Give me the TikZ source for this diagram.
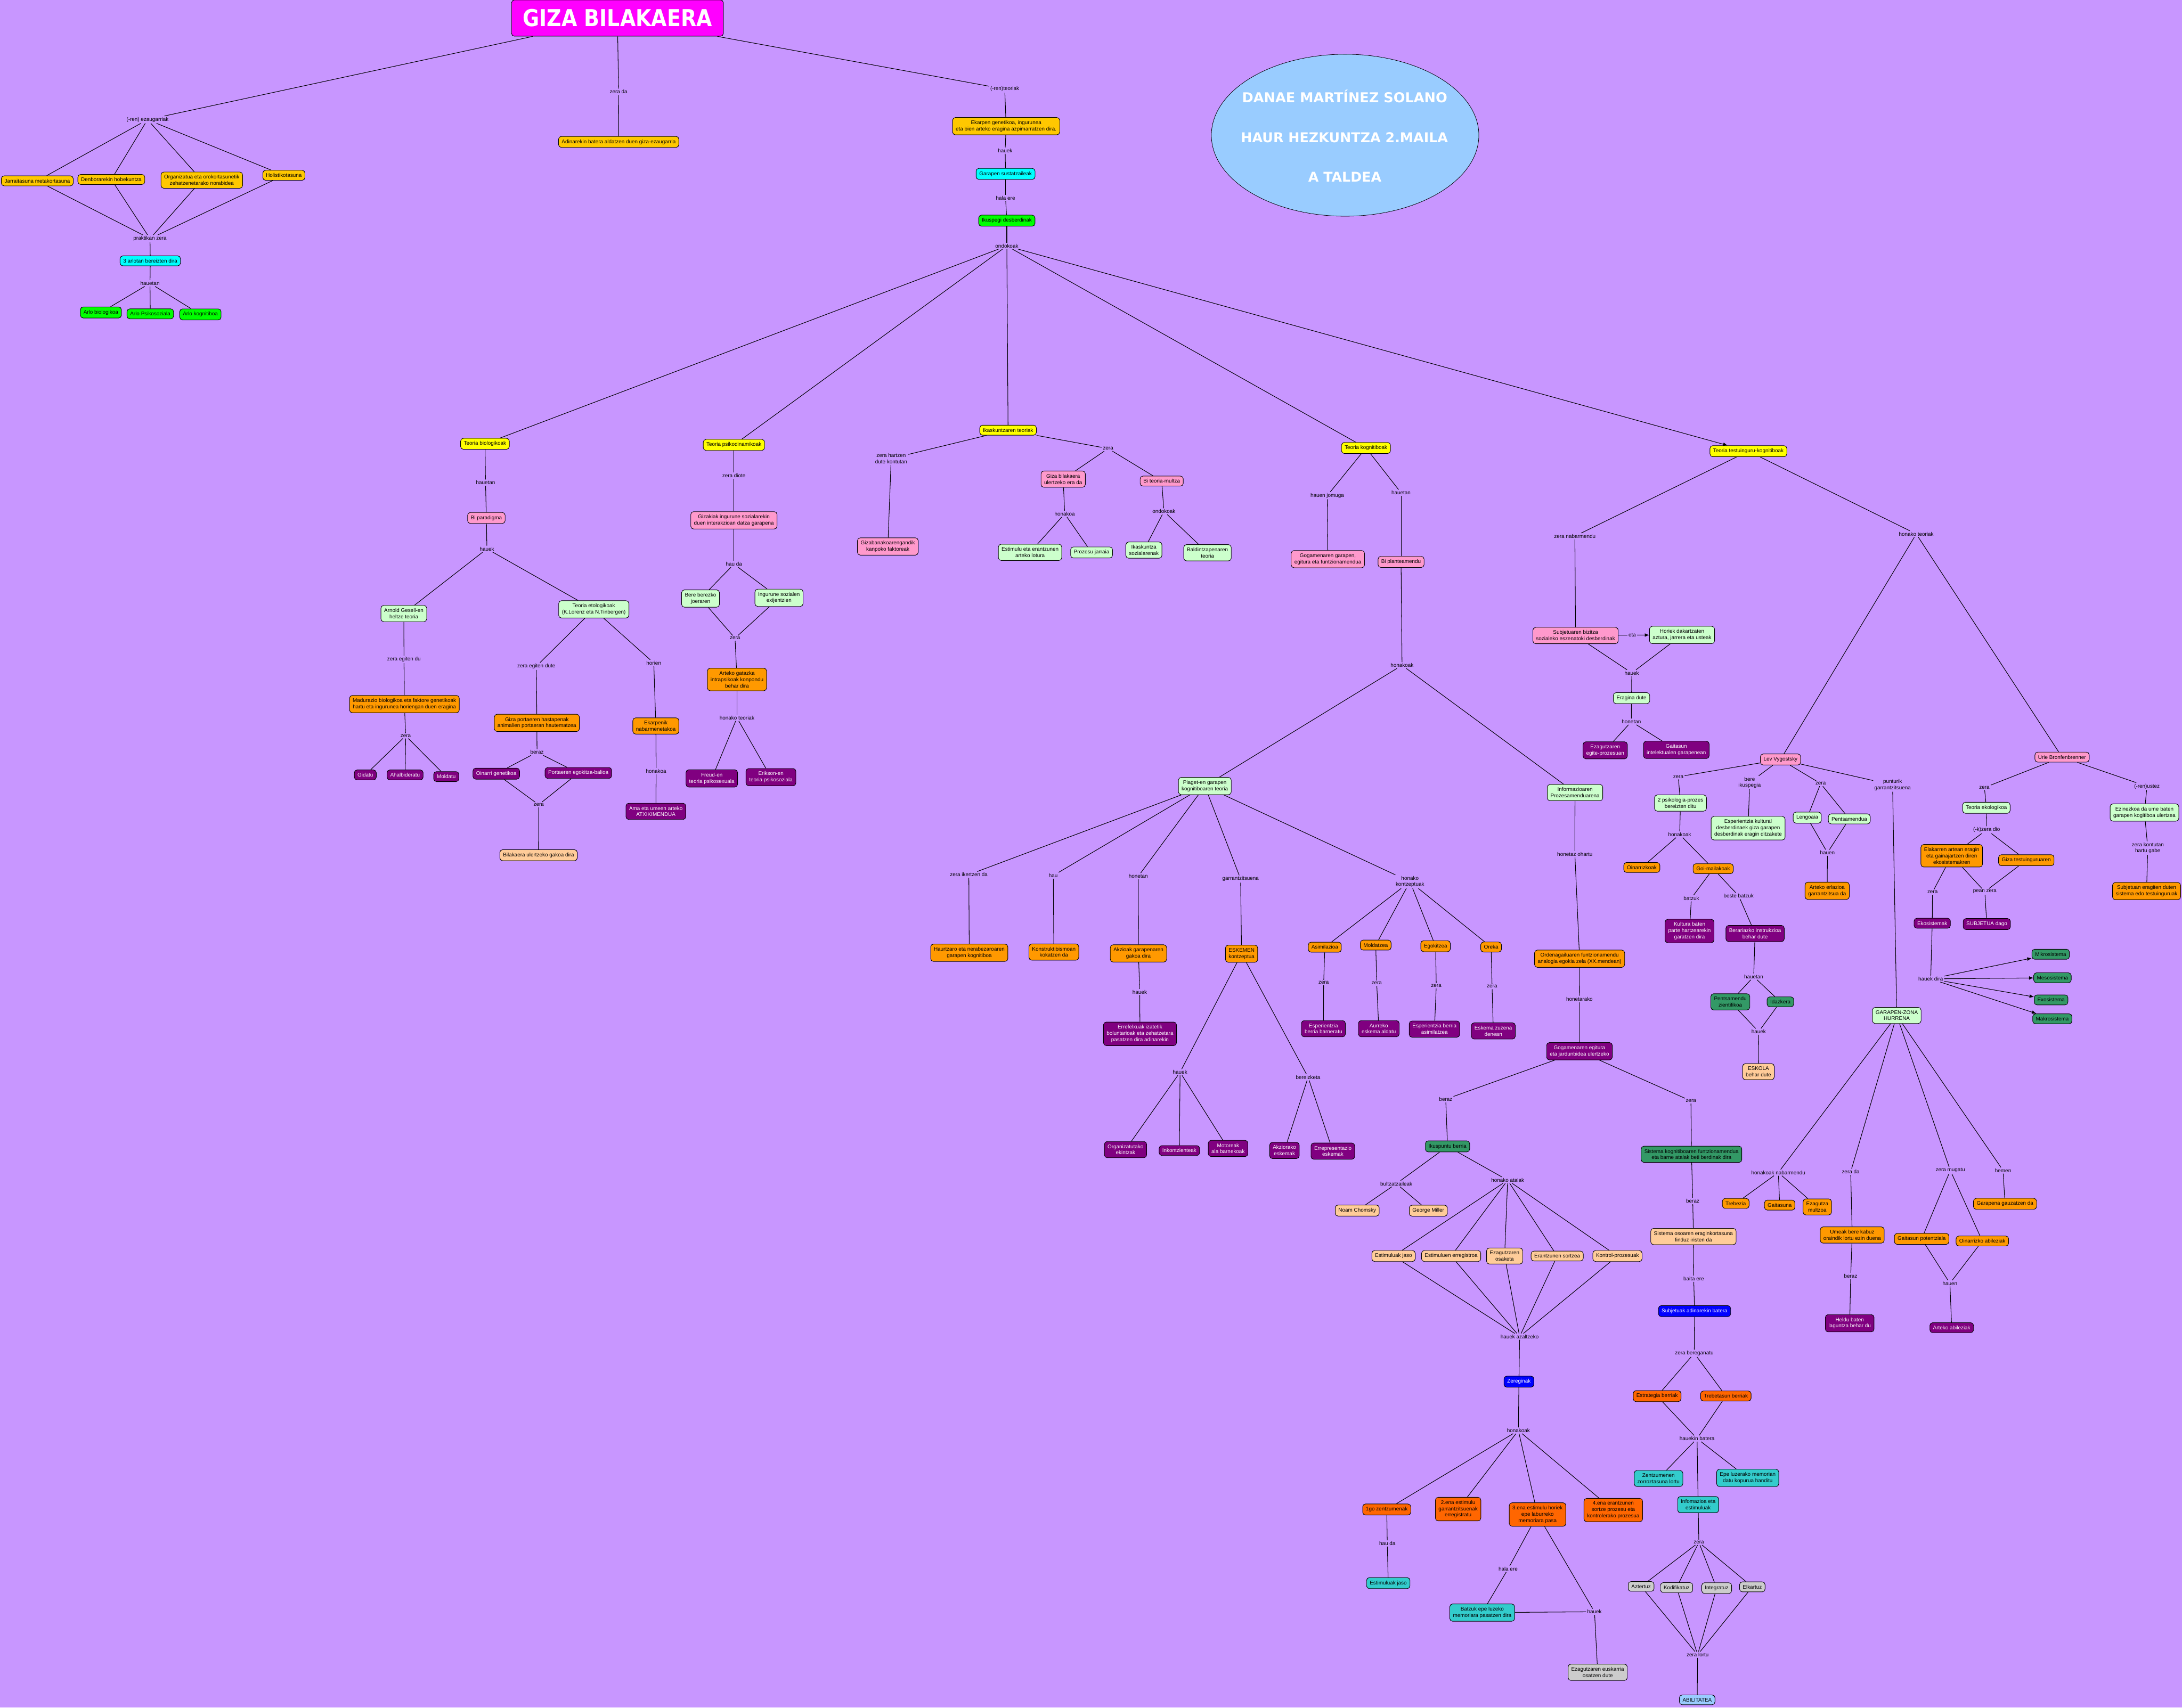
\documentclass[tikz,border=0pt]{standalone}
\usepackage{fontspec}
\setmainfont{Liberation Sans}
\newfontfamily\titlefont{DejaVu Sans}
\usetikzlibrary{arrows.meta,shapes.geometric}
\definecolor{cBg}{RGB}{200,150,255}
\definecolor{cMag}{RGB}{255,0,255}
\definecolor{cGold}{RGB}{255,200,0}
\definecolor{cOrange}{RGB}{255,153,0}
\definecolor{cPeach}{RGB}{255,204,153}
\definecolor{cPink}{RGB}{255,153,204}
\definecolor{cLGreen}{RGB}{204,255,204}
\definecolor{cDGreen}{RGB}{51,153,102}
\definecolor{cPurple}{RGB}{128,0,128}
\definecolor{cBlue}{RGB}{0,0,255}
\definecolor{cORed}{RGB}{255,102,0}
\definecolor{cTeal}{RGB}{51,204,204}
\definecolor{cGray}{RGB}{204,204,204}
\definecolor{cLBlue}{RGB}{153,204,255}
\definecolor{cCyan}{RGB}{0,255,255}
\definecolor{cGreen}{RGB}{0,255,0}
\definecolor{cYellow}{RGB}{255,255,0}
\tikzset{
  every node/.style={font=\fontsize{10.8}{12.8}\selectfont},
  box/.style={draw=black, line width=0.35mm, rounded corners=2mm, inner xsep=2.3mm, inner ysep=2.2mm, align=center},
  lab/.style={inner sep=0.8mm, align=center},
  gold/.style={box, fill=cGold},
  orng/.style={box, fill=cOrange},
  peach/.style={box, fill=cPeach},
  pink/.style={box, fill=cPink},
  lgrn/.style={box, fill=cLGreen},
  dgrn/.style={box, fill=cDGreen},
  purp/.style={box, fill=cPurple, text=white},
  blu/.style={box, fill=cBlue, text=white},
  ored/.style={box, fill=cORed},
  teal/.style={box, fill=cTeal},
  gray/.style={box, fill=cGray},
  lblu/.style={box, fill=cLBlue},
  cyn/.style={box, fill=cCyan},
  grn/.style={box, fill=cGreen},
  yel/.style={box, fill=cYellow},
  con/.style={draw=black, line width=0.4mm},
  arr/.style={con, -{Latex[length=3.2mm,width=2.6mm]}}
}
\begin{document}
\begin{tikzpicture}[x=1mm,y=-1mm]
\fill[cBg] (0,0) rectangle (1568,1227.35);
\useasboundingbox (0,0) rectangle (1568,1227.35);

% ---------- title and top ----------
\node[draw=black, fill=cMag, rounded corners=2mm, line width=0.35mm, minimum width=152.2mm, minimum height=26mm, inner sep=0] (title) at (443.7,13) {\color{white}\resizebox{136mm}{12.4mm}{\titlefont\bfseries GIZA BILAKAERA}};
\node[ellipse, draw=black, fill=cLBlue, line width=0.3mm, minimum width=192.2mm, minimum height=116.4mm, inner sep=0] (danae) at (966.6,97.2) {};
\node[text=white, anchor=base, inner sep=0] (danaeA) at (966.3,73.7) {\resizebox{147.5mm}{!}{\titlefont\bfseries DANAE MARTÍNEZ SOLANO}};
\node[text=white, anchor=base, inner sep=0] (danaeB) at (966.1,102.5) {\resizebox{148.8mm}{!}{\titlefont\bfseries HAUR HEZKUNTZA 2.MAILA}};
\node[text=white, anchor=base, inner sep=0] (danaeC) at (966.4,130.9) {\resizebox{52.5mm}{!}{\titlefont\bfseries A TALDEA}};

\node[lab] (Lezaug) at (106,86) {(-ren) ezaugarriak};
\node[lab] (Lzerada) at (444.5,66) {zera da};
\node[gold] (adin) at (444.6,102) {Adinarekin batera aldatzen duen giza-ezaugarria};
\node[lab] (Lteoriak) at (722,64) {(-ren)teoriak};
\node[gold] (ekarpen) at (723,90.7) {Ekarpen genetikoa, ingurunea\\eta bien arteko eragina azpimarratzen dira.};
\node[lab] (Lhauek1) at (722.3,108.2) {hauek};
\node[cyn] (garapen) at (722.6,125) {Garapen sustatzaileak};
\node[lab] (Lhalaere) at (722.6,142.5) {hala ere};
\node[grn] (ikuspegi) at (723.5,158.6) {Ikuspegi desberdinak};
\node[lab] (Londokoak) at (723.5,176.8) {ondokoak};

% ---------- left branch ----------
\node[gold] (jarr) at (26.8,130) {Jarraitasuna metakortasuna};
\node[gold] (denb) at (80,129) {Denborarekin hobekuntza};
\node[gold] (organ) at (145,129.5) {Organizatua eta orokortasunetik\\zehatzenetarako norabidea};
\node[gold] (holis) at (204,126) {Holistikotasuna};
\node[lab] (Lprakt) at (107.8,171.5) {praktikan zera};
\node[cyn] (arlotan) at (108,187.5) {3 arlotan bereizten dira};
\node[lab] (Lhauetan1) at (107.8,203.6) {hauetan};
\node[grn] (arlob) at (72.5,224.6) {Arlo biologikoa};
\node[grn] (arlop) at (108,225.6) {Arlo Psikosoziala};
\node[grn] (arlok) at (144,226) {Arlo kognitiboa};

% ---------- theories row ----------
\node[yel] (tbio) at (348.5,319) {Teoria biologikoak};
\node[yel] (tpsi) at (527.4,319.8) {Teoria psikodinamikoak};
\node[yel] (tika) at (724.4,309.2) {Ikaskuntzaren teoriak};
\node[yel] (tkog) at (981.6,322) {Teoria kognitiboak};
\node[yel] (ttes) at (1256.4,324.3) {Teoria testuinguru-kognitiboak};

% ---------- biologikoak ----------
\node[lab] (Lhauetan2) at (348.9,346.9) {hauetan};
\node[pink] (bipar) at (349.5,372.3) {Bi paradigma};
\node[lab] (Lhauek2) at (349.9,394.5) {hauek};
\node[lgrn] (arnold) at (290.2,441) {Arnold Gesell-en\\heltze teoria};
\node[lgrn] (etolog) at (426.7,438) {Teoria etologikoak\\(K.Lorenz eta N.Tinbergen)};
\node[lab] (Lzeraegdu) at (290.3,474) {zera egiten du};
\node[lab] (Lzeraegdute) at (385.4,478.9) {zera egiten dute};
\node[lab] (Lhorien) at (469.8,476.5) {horien};
\node[orng] (madur) at (290.6,506.1) {Madurazio biologikoa eta faktore genetikoak\\hartu eta ingurunea horiengan duen eragina};
\node[orng] (gizaport) at (385.8,519.6) {Giza portaeren hastapenak\\animalien portaeran hautematzea};
\node[orng] (ekarpenik) at (471.3,521.8) {Ekarpenik\\nabarmenetakoa};
\node[lab] (Lzera1) at (291.5,528.9) {zera};
\node[lab] (Lberaz1) at (385.9,540.7) {beraz};
\node[lab] (Lhonakoa1) at (471.5,554.2) {honakoa};
\node[purp] (gidatu) at (262.5,557) {Gidatu};
\node[purp] (ahalb) at (291.1,557) {Ahalbideratu};
\node[purp] (moldatu) at (320.7,558.2) {Moldatu};
\node[purp] (oinarri) at (356.6,556.1) {Oinarri genetikoa};
\node[purp] (portaeren) at (415.6,555.6) {Portaeren egokitza-balioa};
\node[lab] (Lzera2) at (387.1,578.4) {zera};
\node[peach] (bilak) at (387,614.7) {Bilakaera ulertzeko gakoa dira};
\node[purp] (ama) at (471.3,583.2) {Ama eta umeen arteko\\ATXIKIMENDUA};

% ---------- psikodinamikoak ----------
\node[lab] (Lzeradiote) at (527.4,342) {zera diote};
\node[pink] (gizakiak) at (527.4,374) {Gizakiak ingurune sozialarekin\\duen interakzioan datza garapena};
\node[lab] (Lhauda1) at (527.4,405.5) {hau da};
\node[lgrn] (bere) at (503.4,430.2) {Bere berezko\\joeraren};
\node[lgrn] (ingurune) at (559.8,429.7) {Ingurune sozialen\\exijentzien};
\node[lab] (Lzera3) at (528.2,458.7) {zera};
\node[orng] (gatazka) at (529.6,488.4) {Arteko gatazka\\intrapsikoak konpondu\\behar dira};
\node[lab] (Lhonteor1) at (529.6,516) {honako teoriak};
\node[purp] (freud) at (511.5,559.5) {Freud-en\\teoria psikosexuala};
\node[purp] (erikson) at (554,558.6) {Erikson-en\\teoria psikosoziala};

% ---------- ikaskuntza ----------
\node[lab] (Lzerahartzen) at (640.4,329.6) {zera hartzen\\dute kontutan};
\node[lab] (Lzera4) at (796.3,322.4) {zera};
\node[pink] (gizaban) at (638,392.8) {Gizabanakoarengandik\\kanpoko faktoreak};
\node[pink] (gizabil) at (764,344.4) {Giza bilakaera\\ulertzeko era da};
\node[pink] (biteoria) at (834.8,345.8) {Bi teoria-multza};
\node[lab] (Lhonakoa2) at (765.1,369.3) {honakoa};
\node[lab] (Londokoak2) at (836.4,367.6) {ondokoak};
\node[lgrn] (estimulu) at (740.2,397) {Estimulu eta erantzunen\\arteko lotura};
\node[lgrn] (prozesu) at (784.4,397.1) {Prozesu jarraia};
\node[lgrn] (ikassoz) at (822,395.4) {Ikaskuntza\\sozialarenak};
\node[lgrn] (baldin) at (867.7,397.3) {Baldintzapenaren\\teoria};

% ---------- kognitiboak ----------
\node[lab] (Lhauenjom) at (953.8,356.2) {hauen jomuga};
\node[lab] (Lhauetan3) at (1006.8,354.2) {hauetan};
\node[pink] (gogam) at (954.2,401.9) {Gogamenaren garapen,\\egitura eta funtzionamendua};
\node[pink] (biplan) at (1006.8,403.9) {Bi planteamendu};
\node[lab] (Lhonakoak1) at (1007.5,478.2) {honakoak};
\node[lgrn] (piaget) at (865.8,565) {Piaget-en garapen\\kognitiboaren teoria};
\node[lgrn] (informaz) at (1131.8,569.7) {Informazioaren\\Prozesamenduarena};

% ---------- Piaget ----------
\node[lab] (Lzeraikertzen) at (696.2,628.7) {zera ikertzen da};
\node[lab] (Lhau) at (756.9,629.3) {hau};
\node[lab] (Lhonetan1) at (818,629.8) {honetan};
\node[lab] (Lgarrantz) at (891.5,631.8) {garrantzitsuena};
\node[lab] (Lhonkontz) at (1013.2,633.7) {honako\\kontzeptuak};
\node[orng] (haurtz) at (696.5,684.8) {Haurtzaro eta nerabezaroaren\\garapen kognitiboa};
\node[orng] (konstr) at (757.3,684.3) {Konstruktibismoan\\kokatzen da};
\node[orng] (akzioak) at (818.1,685.3) {Akzioak garapenaren\\gakoa dira};
\node[orng] (eskemen) at (892.2,685.5) {ESKEMEN\\kontzeptua};
\node[orng] (asimil) at (952,680.8) {Asimilazioa};
\node[orng] (moldatzea) at (988.6,679.3) {Moldatzea};
\node[orng] (egokitzea) at (1031.6,680.1) {Egokitzea};
\node[orng] (oreka) at (1071.5,680.7) {Oreka};
\node[lab] (Lhauek3) at (819,713) {hauek};
\node[lab] (LzeraA) at (951.2,706.2) {zera};
\node[lab] (LzeraM) at (989.3,706.7) {zera};
\node[lab] (LzeraE) at (1032.1,708.5) {zera};
\node[lab] (LzeraO) at (1072.2,709.1) {zera};
\node[purp] (errefl) at (819.2,743.1) {Errefelxuak izatetik\\boluntarioak eta zehatzetara\\pasatzen dira adinarekin};
\node[purp] (espbarn) at (951,739.4) {Esperientzia\\berria barneratu};
\node[purp] (aurreko) at (990.8,739.4) {Aurreko\\eskema aldatu};
\node[purp] (espasim) at (1030.8,739.7) {Esperientzia berria\\asimilatzea};
\node[purp] (eskzuz) at (1073.1,741) {Eskema zuzena\\denean};
\node[lab] (Lhauek4) at (848,770.7) {hauek};
\node[lab] (Lbereizketa) at (940,774.3) {bereizketa};
\node[purp] (organiz) at (808.8,826.3) {Organizatutako\\ekintzak};
\node[purp] (inkontz) at (847.5,827) {Inkontzienteak};
\node[purp] (motoreak) at (882.5,825.5) {Motoreak\\ala barnekoak};
\node[purp] (akziorako) at (923,826.9) {Akziorako\\eskemak};
\node[purp] (errepres) at (957.8,827.4) {Errepresentazio\\eskemak};

% ---------- Informazio prozesamendua ----------
\node[lab] (Lhonetaz) at (1131.7,613.9) {honetaz ohartu};
\node[orng] (ordenag) at (1135.1,689.1) {Ordenagailuaren funtzionamendu\\analogia egokia zela (XX.mendean)};
\node[lab] (Lhonetarako) at (1135,718) {honetarako};
\node[purp] (gogegit) at (1135,755.6) {Gogamenaren egitura\\eta jardunbidea ulertzeko};
\node[lab] (Lberaz2) at (1038.9,790.1) {beraz};
\node[lab] (Lzera5) at (1215.1,791.3) {zera};
\node[dgrn] (ikuspuntu) at (1040.2,824) {Ikuspuntu berria};
\node[dgrn] (sistkog) at (1215.5,829.7) {Sistema kognitiboaren funtzionamendua\\eta barne atalak beti berdinak dira};
\node[lab] (Lbultz) at (1003.4,850.8) {bultzatzaileak};
\node[lab] (Lhonatal) at (1083.4,848.3) {honako atalak};
\node[peach] (noam) at (975.3,870.1) {Noam Chomsky};
\node[peach] (george) at (1026.4,870.2) {George Miller};
\node[lab] (Lberaz3) at (1216.4,863.2) {beraz};
\node[peach] (estjaso) at (1001.4,902.8) {Estimuluak jaso};
\node[peach] (esterreg) at (1042.8,902.8) {Estimuluen erregistroa};
\node[peach] (ezosak) at (1081.2,902.8) {Ezagutzaren\\osaketa};
\node[peach] (erantz) at (1119,902.8) {Erantzunen sortzea};
\node[peach] (kontrol) at (1162.3,902.8) {Kontrol-prozesuak};
\node[peach] (sistoso) at (1216.9,888.8) {Sistema osoaren eraginkortasuna\\finduz iristen da};
\node[lab] (Lbaitaere) at (1217.1,919.1) {baita ere};
\node[blu] (subjad) at (1217.7,942.4) {Subjetuak adinarekin batera};
\node[lab] (Lhauekazal) at (1092,960.7) {hauek azaltzeko};
\node[lab] (Lzerabereg) at (1217.5,972.7) {zera bereganatu};
\node[blu] (zereg) at (1091.5,993.1) {Zereginak};
\node[ored] (estrat) at (1190.8,1003.5) {Estrategia berriak};
\node[ored] (trebet) at (1240.2,1003.4) {Trebetasun berriak};
\node[lab] (Lhonakoak2) at (1091.1,1028.2) {honakoak};
\node[lab] (Lhauekin) at (1219.5,1034) {hauekin batera};
\node[teal] (zentz) at (1191.8,1062.7) {Zentzumenen\\zorroztasuna lortu};
\node[teal] (epeluz) at (1255.9,1062.3) {Epe luzerako memorian\\datu kopurua handitu};
\node[teal] (infom) at (1220.3,1081.5) {Infomazioa eta\\estimuluak};
\node[ored] (go1) at (996.5,1085) {1go zentzumenak};
\node[ored] (ena2) at (1047.8,1084.7) {2.ena estimulu\\garrantzitsuenak\\erregistratu};
\node[ored] (ena3) at (1104.9,1088.6) {3.ena estimulu horiek\\epe laburreko\\memoriara pasa};
\node[ored] (ena4) at (1159.3,1085.4) {4.ena erantzunen\\sortze prozesu eta\\kontrolerako prozesua};
\node[lab] (Lzera6) at (1220.8,1108.6) {zera};
\node[lab] (Lhauda2) at (996.9,1109.4) {hau da};
\node[lab] (Lhalaere2) at (1083.7,1127.7) {hala ere};
\node[teal] (estjaso2) at (997.6,1137.9) {Estimuluak jaso};
\node[gray] (aztertuz) at (1179.3,1140.3) {Aztertuz};
\node[gray] (kodif) at (1204.8,1141.1) {Kodifikatuz};
\node[gray] (integ) at (1233.6,1141.5) {Integratuz};
\node[gray] (elkar) at (1259.2,1140.6) {Elkartuz};
\node[teal] (batzuk) at (1065.1,1159.1) {Batzuk epe luzeko\\memoriara pasatzen dira};
\node[lab] (Lhauek5) at (1145.8,1158.5) {hauek};
\node[lab] (Lzeralortu) at (1219.9,1189.4) {zera lortu};
\node[gray] (ezeusk) at (1148.1,1202) {Ezagutzaren euskarria\\osatzen dute};
\node[lblu] (abil) at (1219.6,1221.8) {ABILITATEA};

% ---------- testuinguru-kognitiboak ----------
\node[lab] (Lzeranab) at (1131.7,385.4) {zera nabarmendu};
\node[lab] (Lhonteor2) at (1377,383.8) {honako teoriak};
\node[pink] (subjbiz) at (1132.2,456.8) {Subjetuaren bizitza\\sozialeko eszenatoki desberdinak};
\node[lab] (Leta) at (1172.9,456.5) {eta};
\node[lgrn] (horiek) at (1208.7,456.4) {Horiek dakartzaten\\aztura, jarrera eta usteak};
\node[lab] (Lhauek6) at (1172.6,483.7) {hauek};
\node[lgrn] (eragina) at (1172.4,501.8) {Eragina dute};
\node[lab] (Lhonetan2) at (1172.3,518.7) {honetan};
\node[purp] (ezegite) at (1153.5,539.3) {Ezagutzaren\\egite-prozesuan};
\node[purp] (gaitint) at (1204.6,539) {Gaitasun\\intelektualen garapenean};
\node[pink] (lev) at (1279.5,545.9) {Lev Vygostsky};
\node[pink] (urie) at (1481.8,544.2) {Urie Bronfenbrenner};
\node[lab] (LzeraL1) at (1206,558.3) {zera};
\node[lab] (Lbereik) at (1257.3,562.5) {bere\\ikuspegia};
\node[lab] (LzeraL2) at (1308.3,563.2) {zera};
\node[lab] (Lpuntur) at (1360,564.2) {punturik\\garrantzitsuena};
\node[lab] (LzeraU) at (1426,566.1) {zera};
\node[lab] (Lrenustez) at (1542.8,565.2) {(-ren)ustez};
\node[lgrn] (psiko2) at (1207.6,577.2) {2 psikologia-prozes\\bereizten ditu};
\node[lgrn] (espkult) at (1256.2,595.3) {Esperientzia kultural\\desberdinaek giza garapen\\desberdinak eragin ditzakete};
\node[lgrn] (lengoaia) at (1298.7,587.7) {Lengoaia};
\node[lgrn] (pents) at (1328.9,588.6) {Pentsamendua};
\node[lgrn] (tekol) at (1427.4,580.6) {Teoria ekologikoa};
\node[lgrn] (ezin) at (1541,584) {Ezinezkoa da ume baten\\garapen kogitiboa ulertzea};
\node[lab] (Lhonakoak3) at (1207,599.8) {honakoak};
\node[lab] (Lkzeradio) at (1427.6,596.5) {(-k)zera dio};
\node[lab] (Lhauen1) at (1313.2,612.9) {hauen};
\node[lab] (Lzerakont) at (1543.4,609.6) {zera kontutan\\hartu gabe};
\node[orng] (oinarriz) at (1179.8,623.5) {Oinarrizkoak};
\node[orng] (goimail) at (1231.1,624.4) {Goi-mailakoak};
\node[orng] (artekerl) at (1313,640.3) {Arteko erlazioa\\garrantzitsua da};
\node[orng] (elakarren) at (1402.5,615.1) {Elakarren artean eragin\\eta gainajartzen diren\\ekosistemakren};
\node[orng] (gizatest) at (1456.1,618.3) {Giza testuinguruaren};
\node[orng] (subjerag) at (1542.5,640.5) {Subjetuan eragiten duten\\sistema edo testuinguruak};
\node[lab] (Lbatzuk) at (1215.4,645.6) {batzuk};
\node[lab] (Lbestebatzuk) at (1249.4,643.9) {beste batzuk};
\node[lab] (LzeraU2) at (1388.7,641.3) {zera};
\node[lab] (Lpeanzera) at (1426.3,640.9) {pean zera};
\node[purp] (kultura) at (1214.1,669.2) {Kultura baten\\parte hartzearekin\\garatzen dira};
\node[purp] (berar) at (1261.2,671) {Berariazko instrukzioa\\behar dute};
\node[purp] (ekosist) at (1388.5,663.6) {Ekosistemak};
\node[purp] (subjdago) at (1427.7,664.2) {SUBJETUA dago};
\node[dgrn] (mikro) at (1473.6,685.9) {Mikrosistema};
\node[lab] (Lhauekdira) at (1387.4,703.6) {hauek dira};
\node[dgrn] (meso) at (1474.9,702.8) {Mesosistema};
\node[dgrn] (exo) at (1473.9,718.7) {Exosistema};
\node[dgrn] (makro) at (1474.8,732.3) {Makrosistema};
\node[lab] (Lhauetan4) at (1260.2,702) {hauetan};
\node[dgrn] (pentzient) at (1243.4,720.1) {Pentsamendu\\zientifikoa};
\node[dgrn] (idazkera) at (1279.4,720.1) {Idazkera};
\node[lgrn] (gzona) at (1363,729.9) {GARAPEN-ZONA\\HURRENA};
\node[lab] (Lhauek7) at (1263.8,741.5) {hauek};
\node[peach] (eskola) at (1263.6,770.3) {ESKOLA\\behar dute};
\node[lab] (Lhonnab) at (1277.9,842.8) {honakoak nabarmendu};
\node[lab] (Lzerada2) at (1329.9,842.3) {zera da};
\node[lab] (Lzeramug) at (1401.5,841.3) {zera mugatu};
\node[lab] (Lhemen) at (1439.4,841.3) {hemen};
\node[orng] (trebezia) at (1247.3,865) {Trebezia};
\node[orng] (gaitasuna) at (1278.9,866.2) {Gaitasuna};
\node[orng] (ezmultz) at (1305.9,867.5) {Ezagutza\\multzoa};
\node[orng] (garapgauz) at (1440.8,865.3) {Garapena gauzatzen da};
\node[orng] (umeak) at (1331,887.7) {Umeak bere kabuz\\oraindik lortu ezin duena};
\node[orng] (gaitpot) at (1380.9,890.5) {Gaitasun potentziala};
\node[orng] (oinabil) at (1424.5,892) {Oinarrizko abileziak};
\node[lab] (Lberaz4) at (1329.9,917.3) {beraz};
\node[lab] (Lhauen2) at (1401.2,922.4) {hauen};
\node[purp] (heldu) at (1329.2,951.1) {Heldu baten\\laguntza behar du};
\node[purp] (artabil) at (1402.5,954.3) {Arteko abileziak};

% ================= connectors =================
\draw[con] (title) -- (Lezaug);
\foreach \n in {jarr,denb,organ,holis} {\draw[con] (Lezaug) -- (\n); \draw[con] (\n) -- (Lprakt);}
\draw[con] (Lprakt) -- (arlotan);
\draw[con] (arlotan) -- (Lhauetan1);
\foreach \n in {arlob,arlop,arlok} \draw[con] (Lhauetan1) -- (\n);
\draw[con] (title) -- (Lzerada);
\draw[con] (Lzerada) -- (adin);
\draw[con] (title) -- (Lteoriak);
\draw[con] (Lteoriak) -- (ekarpen);
\draw[con] (ekarpen) -- (Lhauek1);
\draw[con] (Lhauek1) -- (garapen);
\draw[con] (garapen) -- (Lhalaere);
\draw[con] (Lhalaere) -- (ikuspegi);
\draw[con] (ikuspegi) -- (Londokoak);
\foreach \n in {tbio,tpsi,tika,tkog} \draw[con] (Londokoak) -- (\n);
\draw[arr] (Londokoak) -- (ttes);

% biologikoak
\draw[con] (tbio) -- (Lhauetan2);
\draw[con] (Lhauetan2) -- (bipar);
\draw[con] (bipar) -- (Lhauek2);
\draw[con] (Lhauek2) -- (arnold);
\draw[con] (Lhauek2) -- (etolog);
\draw[con] (arnold) -- (Lzeraegdu);
\draw[con] (Lzeraegdu) -- (madur);
\draw[con] (madur) -- (Lzera1);
\foreach \n in {gidatu,ahalb,moldatu} \draw[con] (Lzera1) -- (\n);
\draw[con] (etolog) -- (Lzeraegdute);
\draw[con] (Lzeraegdute) -- (gizaport);
\draw[con] (gizaport) -- (Lberaz1);
\foreach \n in {oinarri,portaeren} {\draw[con] (Lberaz1) -- (\n); \draw[con] (\n) -- (Lzera2);}
\draw[con] (Lzera2) -- (bilak);
\draw[con] (etolog) -- (Lhorien);
\draw[con] (Lhorien) -- (ekarpenik);
\draw[con] (ekarpenik) -- (Lhonakoa1);
\draw[con] (Lhonakoa1) -- (ama);

% psikodinamikoak
\draw[con] (tpsi) -- (Lzeradiote);
\draw[con] (Lzeradiote) -- (gizakiak);
\draw[con] (gizakiak) -- (Lhauda1);
\foreach \n in {bere,ingurune} {\draw[con] (Lhauda1) -- (\n); \draw[con] (\n) -- (Lzera3);}
\draw[con] (Lzera3) -- (gatazka);
\draw[con] (gatazka) -- (Lhonteor1);
\draw[con] (Lhonteor1) -- (freud);
\draw[con] (Lhonteor1) -- (erikson);

% ikaskuntza
\draw[con] (tika) -- (Lzerahartzen);
\draw[con] (Lzerahartzen) -- (gizaban);
\draw[con] (tika) -- (Lzera4);
\draw[con] (Lzera4) -- (gizabil);
\draw[con] (Lzera4) -- (biteoria);
\draw[con] (gizabil) -- (Lhonakoa2);
\draw[con] (Lhonakoa2) -- (estimulu);
\draw[con] (Lhonakoa2) -- (prozesu);
\draw[con] (biteoria) -- (Londokoak2);
\draw[con] (Londokoak2) -- (ikassoz);
\draw[con] (Londokoak2) -- (baldin);

% kognitiboak
\draw[con] (tkog) -- (Lhauenjom);
\draw[con] (Lhauenjom) -- (gogam);
\draw[con] (tkog) -- (Lhauetan3);
\draw[con] (Lhauetan3) -- (biplan);
\draw[con] (biplan) -- (Lhonakoak1);
\draw[con] (Lhonakoak1) -- (piaget);
\draw[con] (Lhonakoak1) -- (informaz);

% Piaget
\foreach \n in {Lzeraikertzen,Lhau,Lhonetan1,Lgarrantz,Lhonkontz} \draw[con] (piaget) -- (\n);
\draw[con] (Lzeraikertzen) -- (haurtz);
\draw[con] (Lhau) -- (konstr);
\draw[con] (Lhonetan1) -- (akzioak);
\draw[con] (Lgarrantz) -- (eskemen);
\foreach \n in {asimil,moldatzea,egokitzea,oreka} \draw[con] (Lhonkontz) -- (\n);
\draw[con] (akzioak) -- (Lhauek3);
\draw[con] (Lhauek3) -- (errefl);
\draw[con] (asimil) -- (LzeraA);
\draw[con] (LzeraA) -- (espbarn);
\draw[con] (moldatzea) -- (LzeraM);
\draw[con] (LzeraM) -- (aurreko);
\draw[con] (egokitzea) -- (LzeraE);
\draw[con] (LzeraE) -- (espasim);
\draw[con] (oreka) -- (LzeraO);
\draw[con] (LzeraO) -- (eskzuz);
\draw[con] (eskemen) -- (Lhauek4);
\foreach \n in {organiz,inkontz,motoreak} \draw[con] (Lhauek4) -- (\n);
\draw[con] (eskemen) -- (Lbereizketa);
\draw[con] (Lbereizketa) -- (akziorako);
\draw[con] (Lbereizketa) -- (errepres);

% informazio prozesamendua
\draw[con] (informaz) -- (Lhonetaz);
\draw[con] (Lhonetaz) -- (ordenag);
\draw[con] (ordenag) -- (Lhonetarako);
\draw[con] (Lhonetarako) -- (gogegit);
\draw[con] (gogegit) -- (Lberaz2);
\draw[con] (Lberaz2) -- (ikuspuntu);
\draw[con] (gogegit) -- (Lzera5);
\draw[con] (Lzera5) -- (sistkog);
\draw[con] (ikuspuntu) -- (Lbultz);
\draw[con] (Lbultz) -- (noam);
\draw[con] (Lbultz) -- (george);
\draw[con] (ikuspuntu) -- (Lhonatal);
\foreach \n in {estjaso,esterreg,ezosak,erantz,kontrol} {\draw[con] (Lhonatal) -- (\n); \draw[con] (\n) -- (Lhauekazal);}
\draw[con] (Lhauekazal) -- (zereg);
\draw[con] (zereg) -- (Lhonakoak2);
\foreach \n in {go1,ena2,ena3,ena4} \draw[con] (Lhonakoak2) -- (\n);
\draw[con] (go1) -- (Lhauda2);
\draw[con] (Lhauda2) -- (estjaso2);
\draw[con] (ena3) -- (Lhalaere2);
\draw[con] (Lhalaere2) -- (batzuk);
\draw[con] (ena3) -- (Lhauek5);
\draw[con] (batzuk) -- (Lhauek5);
\draw[con] (Lhauek5) -- (ezeusk);
\draw[con] (sistkog) -- (Lberaz3);
\draw[con] (Lberaz3) -- (sistoso);
\draw[con] (sistoso) -- (Lbaitaere);
\draw[con] (Lbaitaere) -- (subjad);
\draw[con] (subjad) -- (Lzerabereg);
\foreach \n in {estrat,trebet} {\draw[con] (Lzerabereg) -- (\n); \draw[con] (\n) -- (Lhauekin);}
\foreach \n in {zentz,infom,epeluz} \draw[con] (Lhauekin) -- (\n);
\draw[con] (infom) -- (Lzera6);
\foreach \n in {aztertuz,kodif,integ,elkar} {\draw[con] (Lzera6) -- (\n); \draw[con] (\n) -- (Lzeralortu);}
\draw[con] (Lzeralortu) -- (abil);

% testuinguru-kognitiboak
\draw[con] (ttes) -- (Lzeranab);
\draw[con] (Lzeranab) -- (subjbiz);
\draw[con] (subjbiz) -- (Leta);
\draw[arr] (Leta) -- (horiek);
\draw[con] (subjbiz) -- (Lhauek6);
\draw[con] (horiek) -- (Lhauek6);
\draw[con] (Lhauek6) -- (eragina);
\draw[con] (eragina) -- (Lhonetan2);
\draw[con] (Lhonetan2) -- (ezegite);
\draw[con] (Lhonetan2) -- (gaitint);
\draw[con] (ttes) -- (Lhonteor2);
\draw[con] (Lhonteor2) -- (lev);
\draw[con] (Lhonteor2) -- (urie);
% Lev
\draw[con] (lev) -- (LzeraL1);
\draw[con] (LzeraL1) -- (psiko2);
\draw[con] (psiko2) -- (Lhonakoak3);
\draw[con] (Lhonakoak3) -- (oinarriz);
\draw[con] (Lhonakoak3) -- (goimail);
\draw[con] (goimail) -- (Lbatzuk);
\draw[con] (Lbatzuk) -- (kultura);
\draw[con] (goimail) -- (Lbestebatzuk);
\draw[con] (Lbestebatzuk) -- (berar);
\draw[con] (berar) -- (Lhauetan4);
\foreach \n in {pentzient,idazkera} {\draw[con] (Lhauetan4) -- (\n); \draw[con] (\n) -- (Lhauek7);}
\draw[con] (Lhauek7) -- (eskola);
\draw[con] (lev) -- (Lbereik);
\draw[con] (Lbereik) -- (espkult);
\draw[con] (lev) -- (LzeraL2);
\foreach \n in {lengoaia,pents} {\draw[con] (LzeraL2) -- (\n); \draw[con] (\n) -- (Lhauen1);}
\draw[con] (Lhauen1) -- (artekerl);
\draw[con] (lev) -- (Lpuntur);
\draw[con] (Lpuntur) -- (gzona);
\foreach \n in {Lhonnab,Lzerada2,Lzeramug,Lhemen} \draw[con] (gzona) -- (\n);
\foreach \n in {trebezia,gaitasuna,ezmultz} \draw[con] (Lhonnab) -- (\n);
\draw[con] (Lzerada2) -- (umeak);
\draw[con] (umeak) -- (Lberaz4);
\draw[con] (Lberaz4) -- (heldu);
\foreach \n in {gaitpot,oinabil} {\draw[con] (Lzeramug) -- (\n); \draw[con] (\n) -- (Lhauen2);}
\draw[con] (Lhauen2) -- (artabil);
\draw[con] (Lhemen) -- (garapgauz);
% Urie
\draw[con] (urie) -- (LzeraU);
\draw[con] (LzeraU) -- (tekol);
\draw[con] (tekol) -- (Lkzeradio);
\draw[con] (Lkzeradio) -- (elakarren);
\draw[con] (Lkzeradio) -- (gizatest);
\draw[con] (elakarren) -- (LzeraU2);
\draw[con] (LzeraU2) -- (ekosist);
\draw[con] (ekosist) -- (Lhauekdira);
\foreach \n in {mikro,meso,exo,makro} \draw[arr] (Lhauekdira) -- (\n);
\draw[con] (elakarren) -- (Lpeanzera);
\draw[con] (gizatest) -- (Lpeanzera);
\draw[con] (Lpeanzera) -- (subjdago);
\draw[con] (urie) -- (Lrenustez);
\draw[con] (Lrenustez) -- (ezin);
\draw[con] (ezin) -- (Lzerakont);
\draw[con] (Lzerakont) -- (subjerag);
\end{tikzpicture}
\end{document}
